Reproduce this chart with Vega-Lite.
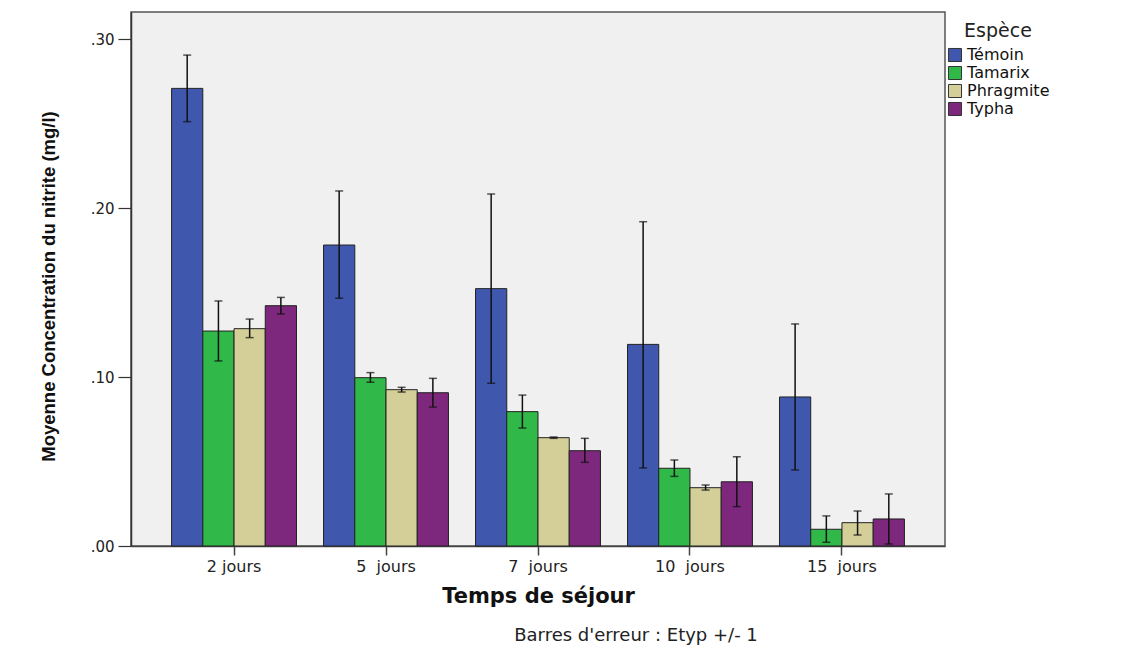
{
  "$schema": "https://vega.github.io/schema/vega-lite/v6.json",
  "autosize": {"type": "none"},
  "width": 814,
  "height": 534,
  "padding": {"left": 131, "top": 12, "right": 182, "bottom": 111},
  "background": "white",
  "config": {
    "view": {"fill": "#F0F0F0", "stroke": "#555555", "strokeWidth": 1.5},
    "font": "DejaVu Sans"
  },
  "title": {
    "text": "Barres d'erreur : Etyp +/- 1",
    "orient": "bottom",
    "anchor": "middle",
    "dx": 98,
    "offset": 21,
    "font": "DejaVu Sans",
    "fontSize": 18,
    "fontWeight": "normal",
    "color": "#222222"
  },
  "data": {
    "values": [
      {"t": "2 jours", "sp": "Témoin", "mean": 0.2708, "lo": 0.2511, "hi": 0.2905},
      {"t": "2 jours", "sp": "Tamarix", "mean": 0.1272, "lo": 0.1095, "hi": 0.1450},
      {"t": "2 jours", "sp": "Phragmite", "mean": 0.1286, "lo": 0.1233, "hi": 0.1343},
      {"t": "2 jours", "sp": "Typha", "mean": 0.1422, "lo": 0.1373, "hi": 0.1471},
      {"t": "5  jours", "sp": "Témoin", "mean": 0.1781, "lo": 0.1466, "hi": 0.2101},
      {"t": "5  jours", "sp": "Tamarix", "mean": 0.0996, "lo": 0.0969, "hi": 0.1026},
      {"t": "5  jours", "sp": "Phragmite", "mean": 0.0925, "lo": 0.0911, "hi": 0.0939},
      {"t": "5  jours", "sp": "Typha", "mean": 0.0907, "lo": 0.0822, "hi": 0.0992},
      {"t": "7  jours", "sp": "Témoin", "mean": 0.1523, "lo": 0.0963, "hi": 0.2083},
      {"t": "7  jours", "sp": "Tamarix", "mean": 0.0795, "lo": 0.0698, "hi": 0.0893},
      {"t": "7  jours", "sp": "Phragmite", "mean": 0.0641, "lo": 0.0637, "hi": 0.0645},
      {"t": "7  jours", "sp": "Typha", "mean": 0.0564, "lo": 0.0495, "hi": 0.0637},
      {"t": "10  jours", "sp": "Témoin", "mean": 0.1193, "lo": 0.0462, "hi": 0.1919},
      {"t": "10  jours", "sp": "Tamarix", "mean": 0.0460, "lo": 0.0412, "hi": 0.0509},
      {"t": "10  jours", "sp": "Phragmite", "mean": 0.0345, "lo": 0.0331, "hi": 0.0361},
      {"t": "10  jours", "sp": "Typha", "mean": 0.0380, "lo": 0.0233, "hi": 0.0528},
      {"t": "15  jours", "sp": "Témoin", "mean": 0.0882, "lo": 0.0450, "hi": 0.1314},
      {"t": "15  jours", "sp": "Tamarix", "mean": 0.0099, "lo": 0.0022, "hi": 0.0178},
      {"t": "15  jours", "sp": "Phragmite", "mean": 0.0138, "lo": 0.0065, "hi": 0.0207},
      {"t": "15  jours", "sp": "Typha", "mean": 0.0160, "lo": 0.0012, "hi": 0.0308}
    ]
  },
  "encoding": {
    "x": {
      "field": "t",
      "type": "nominal",
      "sort": ["2 jours", "5  jours", "7  jours", "10  jours", "15  jours"],
      "scale": {"paddingInner": 0.178, "paddingOuter": 0.267},
      "axis": {
        "title": "Temps de séjour",
        "labelAngle": 0,
        "labelExpr": "replace(datum.label, '  ', '\u00a0\u00a0')",
        "labelFont": "DejaVu Sans",
        "labelFontSize": 16,
        "labelColor": "#222222",
        "labelPadding": 3,
        "tickSize": 9,
        "tickColor": "#444444",
        "tickWidth": 1.5,
        "domainColor": "#444444",
        "domainWidth": 1.5,
        "titleFont": "DejaVu Sans",
        "titleFontSize": 21,
        "titleFontWeight": "bold",
        "titleColor": "#111111",
        "titlePadding": 11
      }
    },
    "xOffset": {
      "field": "sp",
      "type": "nominal",
      "sort": ["Témoin", "Tamarix", "Phragmite", "Typha"],
      "scale": {"paddingInner": 0, "paddingOuter": 0}
    }
  },
  "layer": [
    {
      "mark": {"type": "bar", "stroke": "#222222", "strokeWidth": 1, "opacity": 1},
      "encoding": {
        "y": {
          "field": "mean",
          "type": "quantitative",
          "scale": {"domain": [0, 0.316], "nice": false, "zero": true},
          "axis": {
            "title": "Moyenne Concentration du nitrite (mg/l)",
            "values": [0, 0.1, 0.2, 0.3],
            "labelExpr": "replace(format(datum.value, '.2f'), /^0/, '')",
            "grid": false,
            "tickSize": 13,
            "tickColor": "#333333",
            "tickWidth": 1.2,
            "domainColor": "#333333",
            "domainWidth": 1.5,
            "labelFont": "DejaVu Sans",
            "labelFontSize": 15,
            "labelColor": "#222222",
            "labelPadding": 4,
            "titleFont": "Liberation Sans",
            "titleFontSize": 18.5,
            "titleFontWeight": "bold",
            "titleColor": "#111111",
            "titlePadding": 32,
            "titleY": 274
          }
        },
        "color": {
          "field": "sp",
          "type": "nominal",
          "sort": ["Témoin", "Tamarix", "Phragmite", "Typha"],
          "scale": {
            "domain": ["Témoin", "Tamarix", "Phragmite", "Typha"],
            "range": ["#3F58AD", "#30B848", "#D4CF98", "#7D287C"]
          },
          "legend": {
            "title": "Espèce",
            "orient": "none",
            "legendX": 816,
            "legendY": 10,
            "padding": 0,
            "titleFont": "DejaVu Sans",
            "titleFontSize": 19,
            "titleFontWeight": "normal",
            "titleColor": "#222222",
            "titleAnchor": "middle",
            "titlePadding": 6,
            "labelFont": "DejaVu Sans",
            "labelFontSize": 16,
            "labelColor": "#111111",
            "labelOffset": 4,
            "symbolType": "square",
            "symbolSize": 170,
            "symbolStrokeColor": "#333333",
            "symbolStrokeWidth": 1,
            "symbolOpacity": 1,
            "rowPadding": 0
          }
        }
      }
    },
    {
      "mark": {"type": "rule", "color": "#111111", "strokeWidth": 1.5},
      "encoding": {
        "y": {"field": "lo", "type": "quantitative"},
        "y2": {"field": "hi"}
      }
    },
    {
      "mark": {"type": "tick", "color": "#111111", "size": 8, "thickness": 1.5},
      "encoding": {"y": {"field": "lo", "type": "quantitative"}}
    },
    {
      "mark": {"type": "tick", "color": "#111111", "size": 8, "thickness": 1.5},
      "encoding": {"y": {"field": "hi", "type": "quantitative"}}
    }
  ]
}
